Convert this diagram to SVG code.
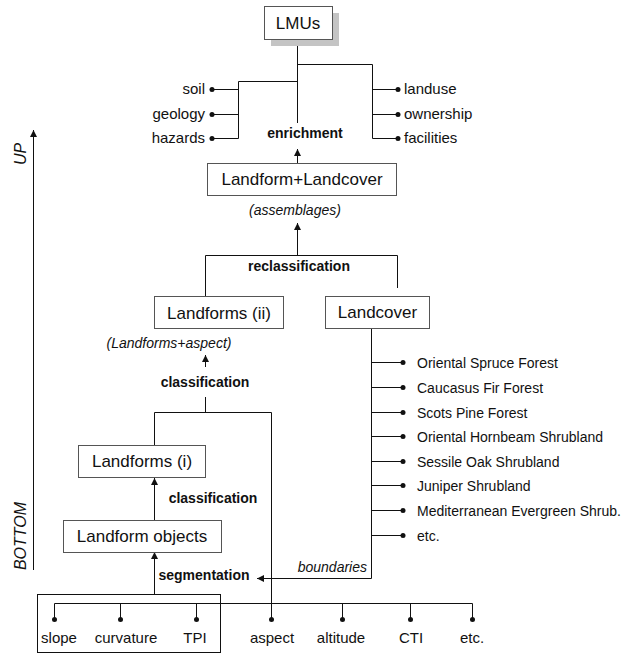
<svg xmlns="http://www.w3.org/2000/svg" width="626" height="653" viewBox="0 0 626 653">
<defs>
<style>
text{font-family:"Liberation Sans",Arial,sans-serif;fill:#111}
.box{fill:#fff;stroke:#555;stroke-width:1}
.bt{font-size:17px;text-anchor:middle}
.lbl{font-size:15px}
.item{font-size:14px}
.bold{font-size:14px;font-weight:bold;text-anchor:middle}
.it{font-size:14px;font-style:italic}
.ln{stroke:#111;stroke-width:1;fill:none}
.dot{fill:#111}
</style>
<marker id="ah" viewBox="0 0 10 10" refX="10" refY="5" markerWidth="7" markerHeight="9" markerUnits="userSpaceOnUse" orient="auto">
<path d="M0,0 L10,5 L0,10 Z" fill="#111"/>
</marker>
</defs>
<rect width="626" height="653" fill="#fff"/>

<g id="connectors">
<path class="ln" d="M297.5,39 V123 M297.5,64.5 H372.5 V138.5 M238.5,81.5 H297.5 M238.5,81.5 V138.5"/>
<path class="ln" d="M212,89.5 H238.5 M212,114.5 H238.5 M212,138.5 H238.5 M372.5,89.5 H398 M372.5,114.5 H398 M372.5,138.5 H398"/>
<path class="ln" d="M297.5,163 V149" marker-end="url(#ah)"/>
<path class="ln" d="M297.5,255 V223" marker-end="url(#ah)"/>
<path class="ln" d="M205.5,296 V255.5 H397.5 V288"/>
<path class="ln" d="M205.5,367 V355" marker-end="url(#ah)"/>
<path class="ln" d="M205.5,397 V412.5 M154.5,445 V412.5 H271.5 V619"/>
<path class="ln" d="M154.5,520 V478" marker-end="url(#ah)"/>
<path class="ln" d="M154.5,594 V552" marker-end="url(#ah)"/>
<path class="ln" d="M371.5,329 V578.5 H257" marker-end="url(#ah)"/>
<path class="ln" d="M371.5,362.5 H403 M371.5,387.5 H403 M371.5,412.5 H403 M371.5,436.5 H403 M371.5,461.5 H403 M371.5,485.5 H403 M371.5,510.5 H403 M371.5,535.5 H403"/>
<path class="ln" d="M54.5,619 V603.5 H472.5 V619 M120.5,603.5 V619 M196.5,603.5 V619 M342.5,603.5 V619 M410.5,603.5 V619"/>
<path class="ln" d="M33.5,570 V130" marker-end="url(#ah)"/>
<g class="dot">
<circle cx="212" cy="89.5" r="2.5"/><circle cx="212" cy="114.5" r="2.5"/><circle cx="212" cy="138.5" r="2.5"/>
<circle cx="398" cy="89.5" r="2.5"/><circle cx="398" cy="114.5" r="2.5"/><circle cx="398" cy="138.5" r="2.5"/>
<circle cx="403" cy="362.5" r="2.5"/><circle cx="403" cy="387.5" r="2.5"/><circle cx="403" cy="412.5" r="2.5"/><circle cx="403" cy="436.5" r="2.5"/>
<circle cx="403" cy="461.5" r="2.5"/><circle cx="403" cy="485.5" r="2.5"/><circle cx="403" cy="510.5" r="2.5"/><circle cx="403" cy="535.5" r="2.5"/>
<circle cx="54.5" cy="619.5" r="2.5"/><circle cx="120.5" cy="619.5" r="2.5"/><circle cx="196.5" cy="619.5" r="2.5"/><circle cx="271.5" cy="619.5" r="2.5"/>
<circle cx="342.5" cy="619.5" r="2.5"/><circle cx="410.5" cy="619.5" r="2.5"/><circle cx="472.5" cy="619.5" r="2.5"/>
</g>
</g>

<g id="lmus">
<rect x="271" y="13" width="68" height="33" fill="#c4c4c4"/>
<rect class="box" x="264.5" y="6.5" width="68" height="33"/>
<text class="bt" x="298" y="29">LMUs</text>
</g>
<g id="enrich-left">
<text class="lbl" x="205" y="94" text-anchor="end">soil</text>
<text class="lbl" x="205" y="119" text-anchor="end">geology</text>
<text class="lbl" x="205" y="143" text-anchor="end">hazards</text>
</g>
<g id="enrich-right">
<text class="lbl" x="404" y="94">landuse</text>
<text class="lbl" x="404" y="119">ownership</text>
<text class="lbl" x="404" y="143">facilities</text>
</g>
<text class="bold" x="305" y="138">enrichment</text>

<g id="landform-landcover">
<rect class="box" x="207.5" y="163.5" width="189" height="32"/>
<text class="bt" x="302" y="185">Landform+Landcover</text>
</g>
<text class="it" x="295" y="215" text-anchor="middle">(assemblages)</text>
<text class="bold" x="299" y="271">reclassification</text>

<g id="landforms-ii">
<rect class="box" x="154.5" y="296.5" width="129" height="32"/>
<text class="bt" x="219" y="319">Landforms (ii)</text>
</g>
<g id="landcover">
<rect class="box" x="325.5" y="296.5" width="104" height="32"/>
<text class="bt" x="377.5" y="318">Landcover</text>
</g>
<text class="it" x="169" y="348" text-anchor="middle">(Landforms+aspect)</text>
<text class="bold" x="205" y="387">classification</text>

<g id="landcover-classes">
<text class="item" x="417" y="367.5">Oriental Spruce Forest</text>
<text class="item" x="417" y="392.5">Caucasus Fir Forest</text>
<text class="item" x="417" y="417.5">Scots Pine Forest</text>
<text class="item" x="417" y="441.5">Oriental Hornbeam Shrubland</text>
<text class="item" x="417" y="466.5">Sessile Oak Shrubland</text>
<text class="item" x="417" y="490.5">Juniper Shrubland</text>
<text class="item" x="417" y="515.5">Mediterranean Evergreen Shrub.</text>
<text class="item" x="417" y="540.5">etc.</text>
</g>

<g id="landforms-i">
<rect class="box" x="78.5" y="445.5" width="127" height="32"/>
<text class="bt" x="142" y="467">Landforms (i)</text>
</g>
<text class="bold" x="213" y="503">classification</text>

<g id="landform-objects">
<rect class="box" x="63.5" y="520.5" width="158" height="32"/>
<text class="bt" x="142" y="542">Landform objects</text>
</g>
<text class="bold" x="204" y="580">segmentation</text>
<text class="it" x="367" y="572" text-anchor="end">boundaries</text>

<g id="inputs">
<rect x="37.5" y="594.5" width="183" height="58" fill="none" stroke="#111"/>
<text class="lbl" x="59" y="643" text-anchor="middle">slope</text>
<text class="lbl" x="126" y="643" text-anchor="middle">curvature</text>
<text class="lbl" x="195" y="643" text-anchor="middle">TPI</text>
<text class="lbl" x="272" y="643" text-anchor="middle">aspect</text>
<text class="lbl" x="341" y="643" text-anchor="middle">altitude</text>
<text class="lbl" x="411" y="643" text-anchor="middle">CTI</text>
<text class="lbl" x="472" y="643" text-anchor="middle">etc.</text>
</g>

<g id="axis">
<text class="it" font-size="16" transform="translate(26,154) rotate(-90)" text-anchor="middle" style="font-size:16px">UP</text>
<text class="it" transform="translate(26,536) rotate(-90)" text-anchor="middle" style="font-size:16px">BOTTOM</text>
</g>
</svg>
